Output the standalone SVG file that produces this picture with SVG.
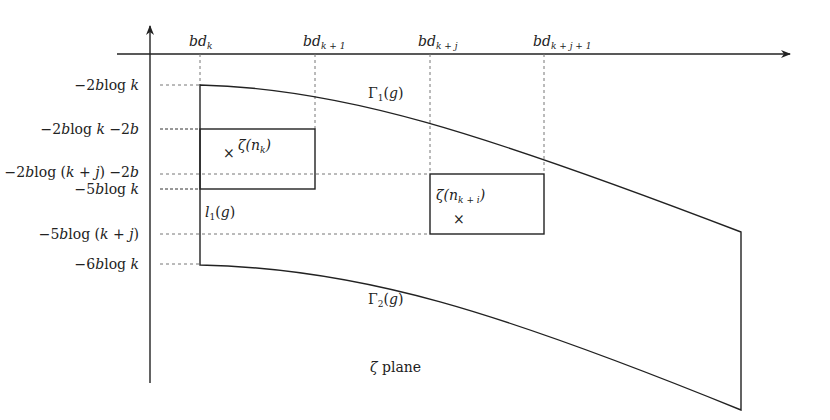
<svg xmlns="http://www.w3.org/2000/svg" width="830" height="420" viewBox="0 0 830 420">
<defs>
<style>
text{font-family:"DejaVu Serif","Liberation Serif",serif;font-size:14px;fill:#222}
.i{font-style:italic}
.s{font-size:9px}
.d{stroke:#777;stroke-width:1;stroke-dasharray:3,3;fill:none}
.dk{stroke:#333;stroke-width:1;stroke-dasharray:3,2;fill:none}
.l{stroke:#222;stroke-width:1.4;fill:none}
</style>
<marker id="a" markerWidth="10" markerHeight="8" refX="9" refY="4" orient="auto" markerUnits="userSpaceOnUse"><path d="M0,0 L10,4 L0,8 L3,4 Z" fill="#222"/></marker>
</defs>
<g id="connectors">
<line class="l" x1="150" y1="383" x2="150" y2="26" marker-end="url(#a)"/>
<line class="l" x1="117" y1="54" x2="790" y2="54" marker-end="url(#a)"/>
<path class="d" d="M200 54V85M315 54V129M430 54V174M544 54V174"/>
<path class="d" d="M160 85H200M160 174H430M160 234H430M160 264H200"/>
<path class="dk" d="M160 129H200M160 189H200"/>
</g>
<g id="region">
<path class="l" d="M200 85 C340 88 480 132 741 232 V410 C500 312 360 268 200 265 Z"/>
</g>
<g id="box1"><rect class="l" x="200" y="129" width="115" height="60"/>
<text x="223" y="158">×</text><text class="i" x="238" y="150">ζ(n<tspan class="s" dy="3">k</tspan><tspan dy="-3">)</tspan></text></g>
<g id="box2"><rect class="l" x="430" y="174" width="114" height="60"/>
<text class="i" x="436" y="200">ζ(n<tspan class="s" dy="3">k + i</tspan><tspan dy="-3">)</tspan></text><text x="453" y="224">×</text></g>
<g id="labels">
<text class="i" x="189" y="46">bd<tspan class="s" dy="3">k</tspan></text>
<text class="i" x="303" y="46">bd<tspan class="s" dy="3">k + 1</tspan></text>
<text class="i" x="418" y="46">bd<tspan class="s" dy="3">k + j</tspan></text>
<text class="i" x="533" y="46">bd<tspan class="s" dy="3">k + j + 1</tspan></text>
<text x="139" y="90" text-anchor="end">−2<tspan class="i">b</tspan>log <tspan class="i">k</tspan></text>
<text x="139" y="134" text-anchor="end">−2<tspan class="i">b</tspan>log <tspan class="i">k</tspan> −2<tspan class="i">b</tspan></text>
<text x="139" y="177" text-anchor="end">−2<tspan class="i">b</tspan>log (<tspan class="i">k</tspan> + <tspan class="i">j</tspan>) −2<tspan class="i">b</tspan></text>
<text x="139" y="194" text-anchor="end">−5<tspan class="i">b</tspan>log <tspan class="i">k</tspan></text>
<text x="139" y="239" text-anchor="end">−5<tspan class="i">b</tspan>log (<tspan class="i">k</tspan> + <tspan class="i">j</tspan>)</text>
<text x="139" y="269" text-anchor="end">−6<tspan class="i">b</tspan>log <tspan class="i">k</tspan></text>
<text x="368" y="98">Γ<tspan class="s" dy="3">1</tspan><tspan dy="-3">(</tspan><tspan class="i">g</tspan>)</text>
<text x="368" y="304">Γ<tspan class="s" dy="3">2</tspan><tspan dy="-3">(</tspan><tspan class="i">g</tspan>)</text>
<text class="i" x="205" y="217">l<tspan class="s" dy="3" font-style="normal">1</tspan><tspan dy="-3" font-style="normal">(</tspan>g<tspan font-style="normal">)</tspan></text>
<text x="370" y="372"><tspan class="i">ζ</tspan> plane</text>
</g>
</svg>
